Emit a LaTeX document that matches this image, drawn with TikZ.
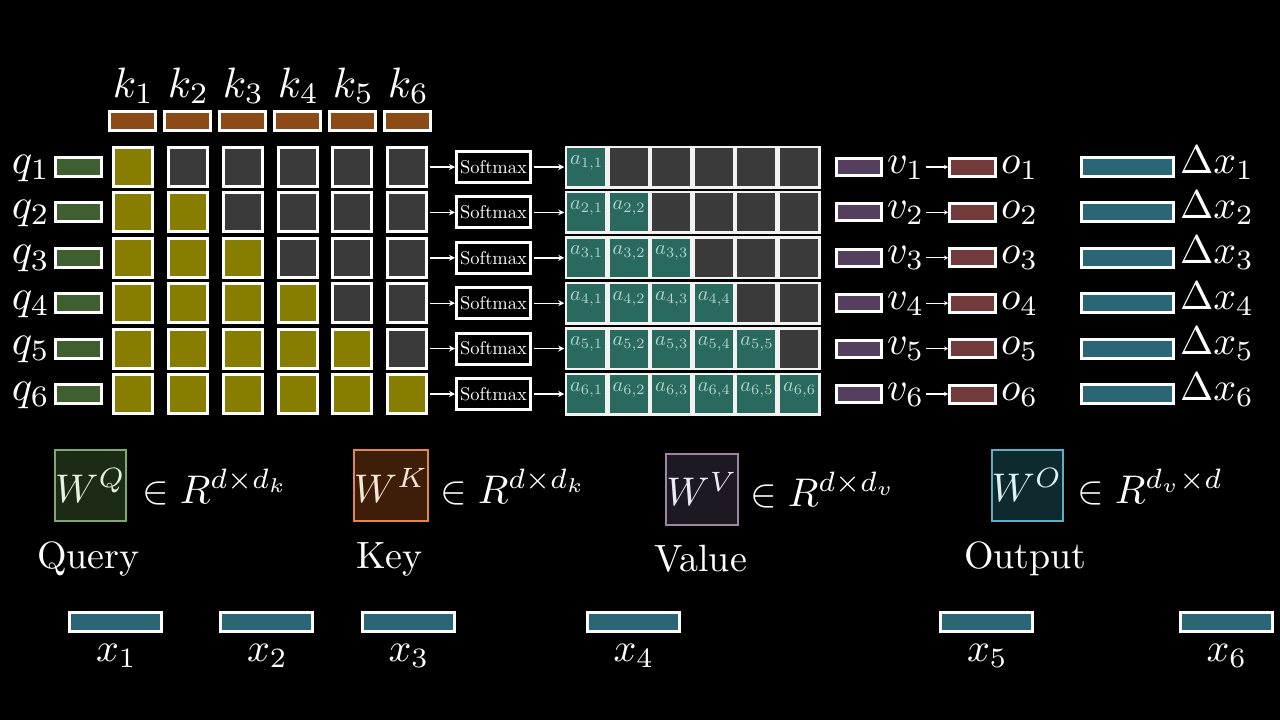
\RequirePackage{fix-cm}
\documentclass[tikz,border=0pt]{standalone}
\usepackage[no-math]{fontspec}
\usepackage{graphicx}
\usetikzlibrary{arrows.meta}
\definecolor{keyc}{HTML}{8B4A16}
\definecolor{qc}{HTML}{3F5F30}
\definecolor{yelc}{HTML}{877D00}
\definecolor{grayc}{HTML}{3A3A3A}
\definecolor{attc}{HTML}{2A6A5E}
\definecolor{atxt}{HTML}{B2D6CE}
\definecolor{vc}{HTML}{54405E}
\definecolor{oc}{HTML}{723A3A}
\definecolor{dxc}{HTML}{2A6676}
\definecolor{wqf}{HTML}{1B2B15}\definecolor{wqb}{HTML}{7FA870}\definecolor{wqt}{HTML}{E4F2DE}
\definecolor{wkf}{HTML}{3E1E08}\definecolor{wkb}{HTML}{E0884E}\definecolor{wkt}{HTML}{F8E6D6}
\definecolor{wvf}{HTML}{1E1822}\definecolor{wvb}{HTML}{9E85A8}\definecolor{wvt}{HTML}{EEE8F2}
\definecolor{wof}{HTML}{0F2A2E}\definecolor{wob}{HTML}{5DAFC6}\definecolor{wot}{HTML}{DCF2F6}
\newcommand\Mth[1]{\scalebox{4}{$#1$}}
\newcommand\Mtb[1]{\scalebox{4.25}{$#1$}}
\newcommand\Wrd[1]{\scalebox{3.8}{#1}}
\newcommand\Amt[1]{\scalebox{2.05}{$#1$}}
\begin{document}
\begin{tikzpicture}[x=1pt,y=-1pt,
  every node/.style={inner sep=0pt,outer sep=0pt},
  bar/.style={draw=white,line width=3pt,minimum width=46pt,minimum height=19pt},
  wide bar/.style={bar,minimum width=92pt,minimum height=19pt},
  sq/.style={draw=white,line width=3pt,minimum width=39pt,minimum height=39pt},
  acell/.style={draw=white!90!gray,line width=2.5pt,minimum width=40.5pt,minimum height=40.5pt},
  alab/.style={text=atxt,anchor=base west},
  lab/.style={text=white},
  smbox/.style={draw=white,line width=3pt,fill=black,text=white,minimum width=74pt,minimum height=31pt},
  wbox/.style={line width=2pt,minimum width=71pt,minimum height=71pt},
  arr/.style={draw=white,line width=1.4pt,-{Stealth[length=6pt,width=6pt]}},
  sarr/.style={draw=white,line width=1.2pt,-{Stealth[length=4pt,width=4.5pt]}}]
\fill[black] (0,0) rectangle (1280,720);
\useasboundingbox (0,0) rectangle (1280,720);
% keys
\foreach \j/\xx in {1/132,2/187,3/242,4/297,5/352,6/407}{
  \node[bar,fill=keyc] (kb\j) at (\xx,121) {};
  \node[lab,anchor=base] (kl\j) at (\xx+1.5,97) {\Mtb{k_{\j}}};
}
% rows
\foreach \i in {1,...,6}{
  \pgfmathsetmacro\yy{167+45.4*(\i-1)}
  \node[bar,fill=qc] (qb\i) at (78.5,\yy) {};
  \node[lab,anchor=base east] (ql\i) at (50,\yy+6) {\Mtb{q_{\i}}};
  \foreach \j/\xx in {1/133,2/187.5,3/242.5,4/297.5,5/352,6/407}{
    \ifnum\j>\i\def\cc{grayc}\else\def\cc{yelc}\fi
    \node[sq,fill=\cc] (g\i-\j) at (\xx,\yy) {};
  }
  \node[smbox] (sm\i) at (493.5,\yy) {\scalebox{1.85}{Softmax}};
  \draw[arr,shorten <=3pt,shorten >=1.5pt] (g\i-6.east) -- (sm\i.west);
  \foreach \j in {1,...,6}{
    \pgfmathsetmacro\ax{586+42.6*(\j-1)}
    \ifnum\j>\i\def\cc{grayc}\else\def\cc{attc}\fi
    \node[acell,fill=\cc] (a\i-\j) at (\ax,\yy) {};
    \ifnum\j>\i\else
      \node[alab] (al\i-\j) at (\ax-16,\yy-3) {\Amt{a_{\i,\j}}};
    \fi
  }
  \draw[arr,shorten <=3pt,shorten >=1.5pt] (sm\i.east) -- (a\i-1.west);
  \node[bar,fill=vc,minimum width=45pt,minimum height=17pt] (vb\i) at (859,\yy) {};
  \node[lab,anchor=base west] (vl\i) at (887,\yy+6) {\Mth{v_{\i}}};
  \node[bar,fill=oc,minimum width=46pt,minimum height=18pt] (ob\i) at (972.5,\yy) {};
  \node[lab,anchor=base west] (ol\i) at (1001,\yy+6) {\Mth{o_{\i}}};
  \draw[sarr,shorten <=2pt,shorten >=1.5pt] (vl\i.east |- vb\i) -- (ob\i.west);
  \node[wide bar,fill=dxc] (db\i) at (1127.5,\yy) {};
  \node[lab,anchor=base west] (dl\i) at (1180,\yy+6) {\Mth{\Delta x_{\i}}};
}
% weight matrices
\node[wbox,draw=wqb,fill=wqf,text=wqt] (wq) at (90.5,485.5) {\Mth{W^Q}};
\node[lab,anchor=base west] (wqe) at (142,503) {\Mth{\in R^{d\times d_k}}};
\node[lab,anchor=base west] (wql) at (37,568) {\Wrd{Query}};
\node[wbox,draw=wkb,fill=wkf,text=wkt] (wk) at (391,485.5) {\Mth{W^K}};
\node[lab,anchor=base west] (wke) at (440,503) {\Mth{\in R^{d\times d_k}}};
\node[lab,anchor=base west] (wkl) at (356,568) {\Wrd{Key}};
\node[wbox,draw=wvb,fill=wvf,text=wvt] (wv) at (702,489) {\Mth{W^V}};
\node[lab,anchor=base west] (wve) at (750,506) {\Mth{\in R^{d\times d_v}}};
\node[lab,anchor=base west] (wvl) at (654,571) {\Wrd{Value}};
\node[wbox,draw=wob,fill=wof,text=wot] (wo) at (1027,485) {\Mth{W^O}};
\node[lab,anchor=base west] (woe) at (1077,503) {\Mth{\in R^{d_v\times d}}};
\node[lab,anchor=base west] (wol) at (964,568) {\Wrd{Output}};
% inputs
\foreach \n/\xx in {1/115.5,2/266.5,3/408,4/633,5/986.5,6/1226}{
  \node[wide bar,fill=dxc] (xb\n) at (\xx,622) {};
  \node[lab,anchor=base] (xl\n) at (\xx+1,661) {\Mth{x_{\n}}};
}
\end{tikzpicture}
\end{document}
